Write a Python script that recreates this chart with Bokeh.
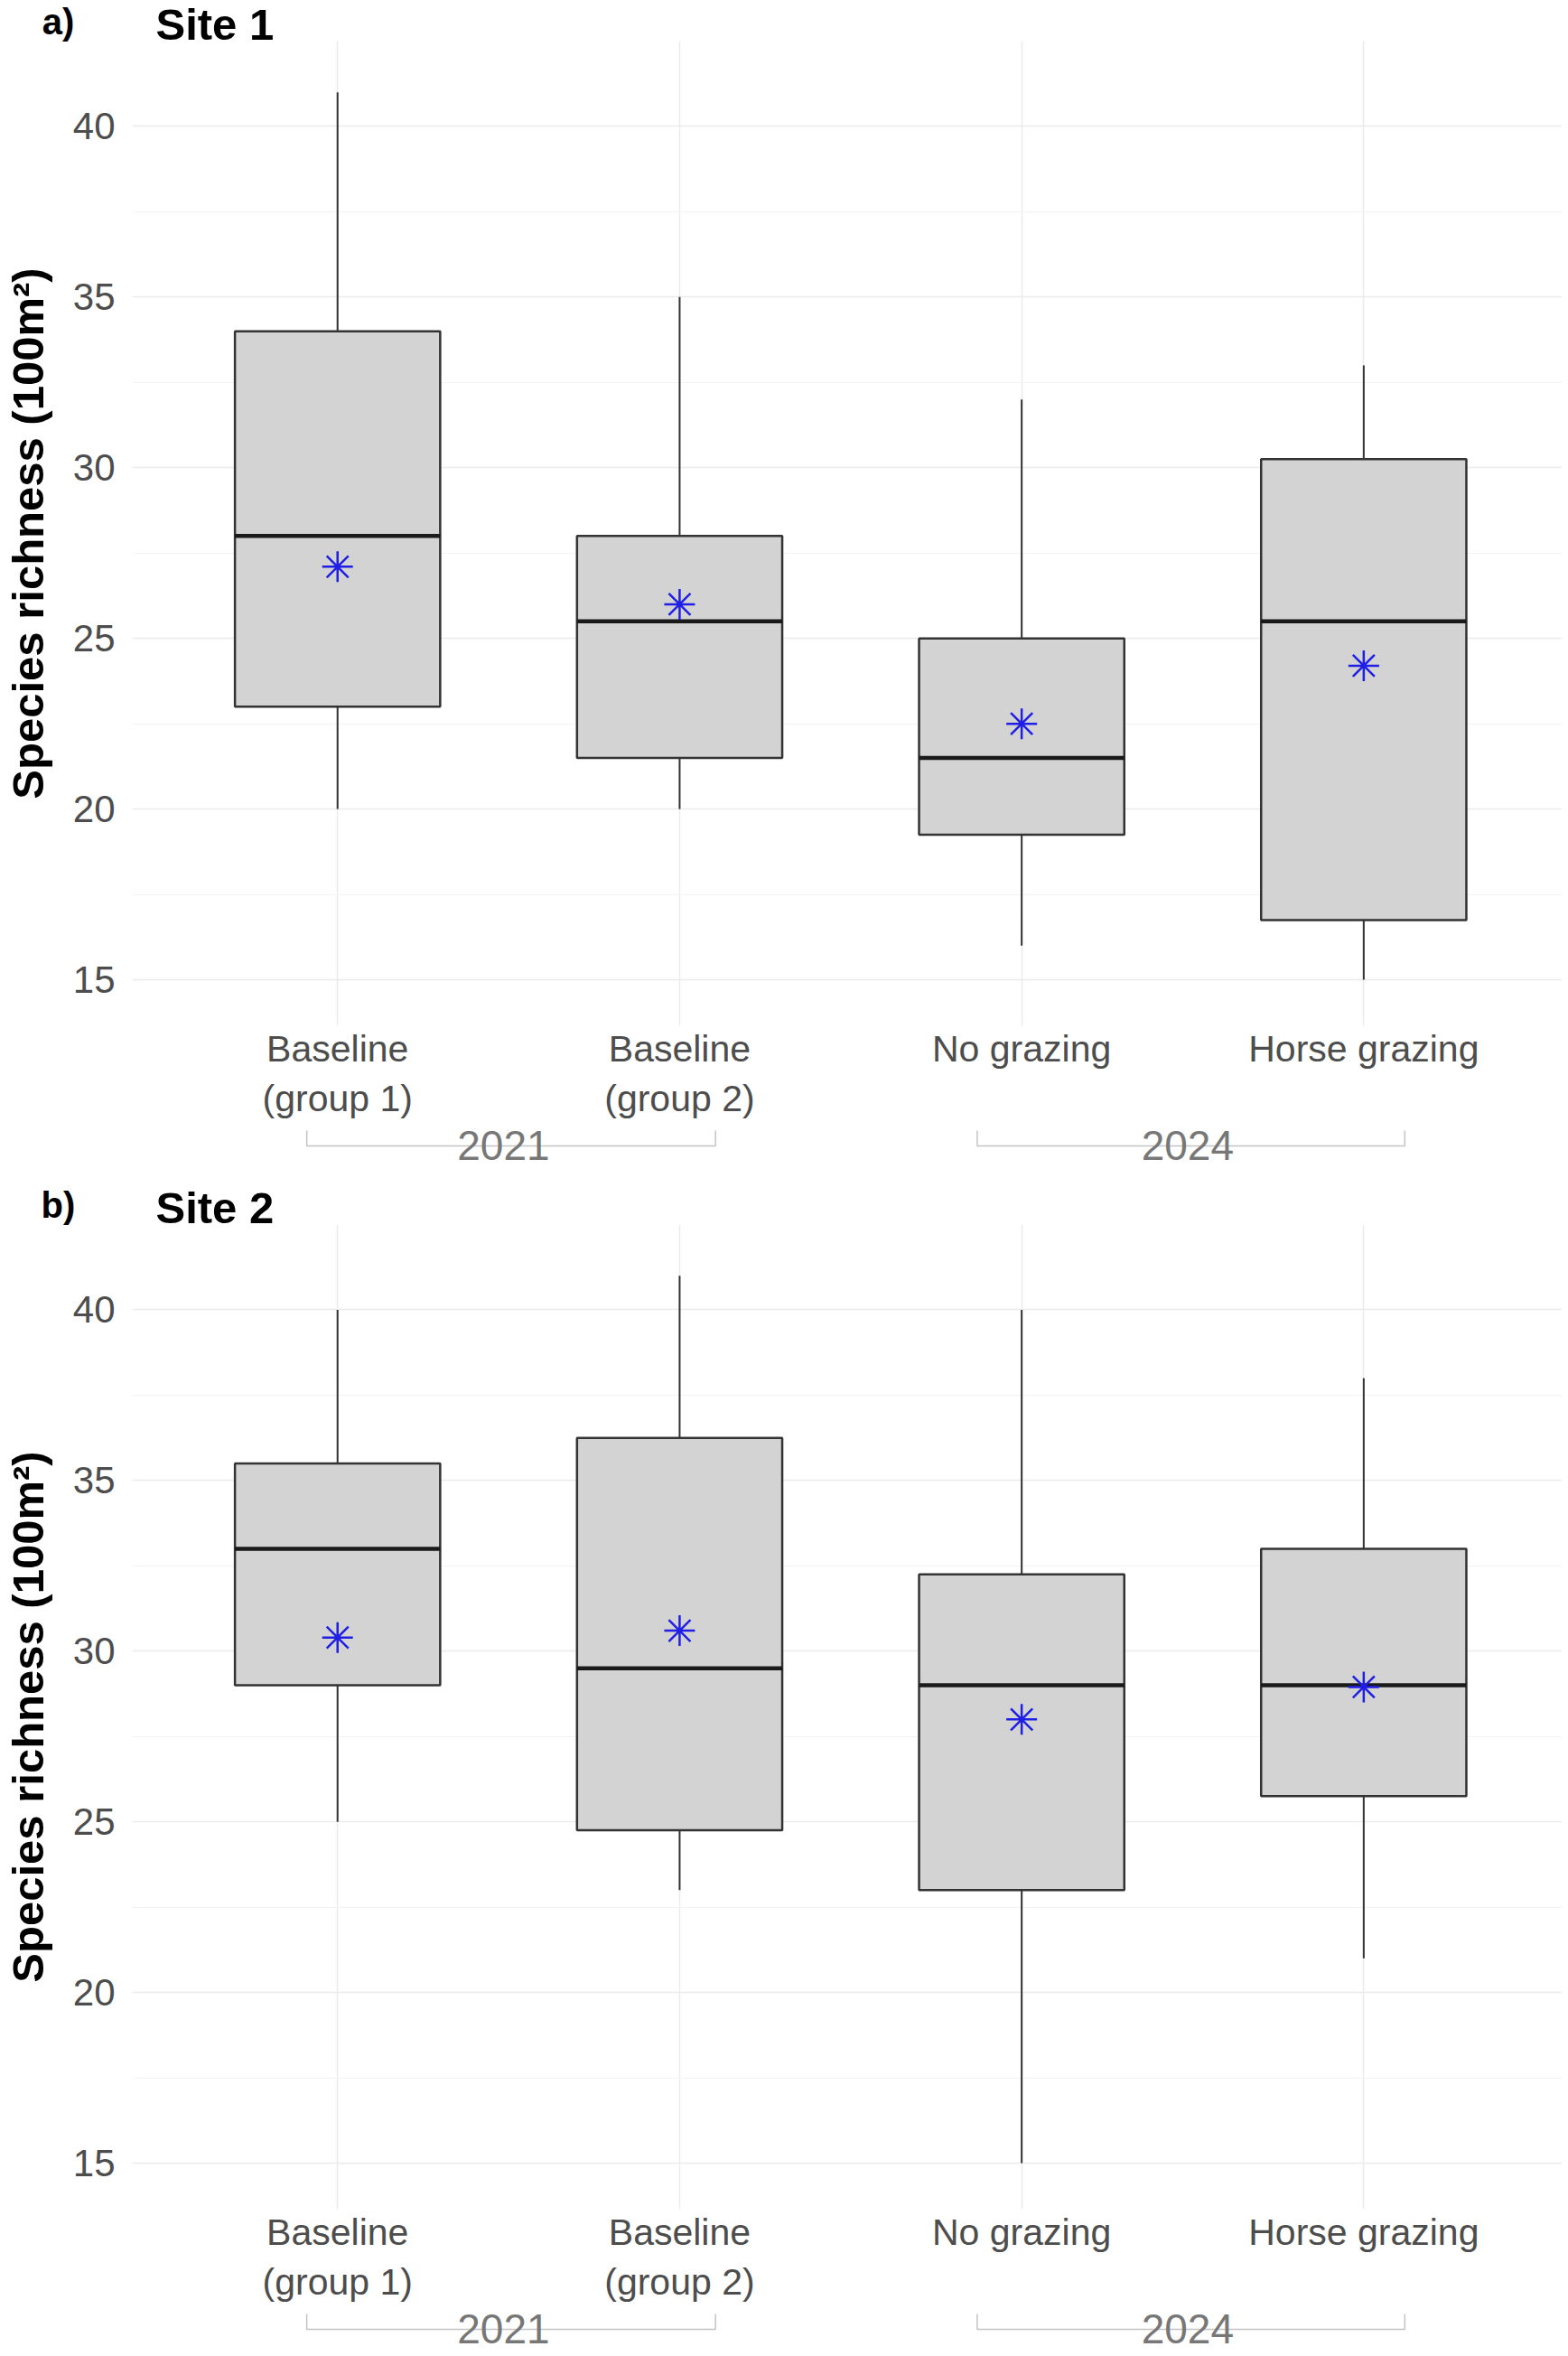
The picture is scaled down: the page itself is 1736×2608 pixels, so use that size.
import numpy as np
from bokeh.plotting import figure
from bokeh.layouts import column
from bokeh.models import ColumnDataSource, FixedTicker, SingleIntervalTicker, Range1d
from bokeh.core.properties import value
from bokeh.embed import file_html
from bokeh.resources import INLINE

# treatments (x categories) and survey year of each
treatments = ["Baseline\n(group 1)", "Baseline\n(group 2)", "No grazing", "Horse grazing"]
years = ["2021", "2021", "2024", "2024"]

# Site 1 - box stats
s1_low = [20, 20, 16, 15]
s1_q1 = [23, 21.5, 19.25, 16.75]
s1_med = [28, 25.5, 21.5, 25.5]
s1_q3 = [34, 28, 25, 30.25]
s1_high = [41, 35, 32, 33]
s1_mean = [27.1, 26.0, 22.5, 24.2]

# Site 2
s2_low = [25, 23, 15, 21]
s2_q1 = [29, 24.75, 23, 25.75]
s2_med = [33, 29.5, 29, 29]
s2_q3 = [35.5, 36.25, 32.25, 33]
s2_high = [40, 41, 40, 38]
s2_mean = [30.4, 30.6, 28.0, 28.95]

FONT = "Liberation Sans"
X0, X1 = 0.4, 4.58
Y0, Y1 = 13.65, 42.5
FW, FH = 1583, 1090
BOX_W = 0.6
# bracket ends (left pad, right pad) in category units
PAD = {"2021": (0.09, 0.105), "2024": (0.13, 0.12)}

px_x = FW / (X1 - X0)
px_y = FH / (Y1 - Y0)

def ybelow(px):
    return Y0 - px / px_y

def yabove(px):
    return Y1 + px / px_y

def xfrom_left(px):
    return X0 + px / px_x


def panel(tag, site, low, q1, med, q3, high, mean, top, bottom):
    x = np.arange(1, len(treatments) + 1)
    src = ColumnDataSource(dict(x=x, xl=x - BOX_W / 2, xr=x + BOX_W / 2,
                                low=low, q1=q1, med=med, q3=q3, high=high, mean=mean))
    p = figure(frame_width=FW, frame_height=FH, x_range=Range1d(X0, X1), y_range=Range1d(Y0, Y1),
               output_backend="svg", toolbar_location=None,
               min_border_left=137, min_border_right=0, min_border_top=top, min_border_bottom=bottom)
    p.outline_line_color = None

    # axes
    p.xaxis.ticker = FixedTicker(ticks=list(x))
    p.xaxis.major_label_overrides = {int(i): t for i, t in zip(x, treatments)}
    p.yaxis.ticker = SingleIntervalTicker(interval=5, num_minor_ticks=2)
    for ax in (p.xaxis, p.yaxis):
        ax.axis_line_color = None
        ax.major_tick_line_color = None
        ax.minor_tick_line_color = None
        ax.major_tick_out = 0
        ax.major_label_text_font = FONT
        ax.major_label_text_color = "#4d4d4d"
    p.xaxis.major_label_text_font_size = "41px"
    p.yaxis.major_label_text_font_size = "42px"
    p.xaxis.major_label_standoff = 2
    p.yaxis.major_label_standoff = 15
    p.yaxis.axis_label = "Species richness (100m\u00b2)"
    p.yaxis.axis_label_text_font = FONT
    p.yaxis.axis_label_text_font_style = "bold"
    p.yaxis.axis_label_text_font_size = "49px"
    p.yaxis.axis_label_text_color = "black"
    p.yaxis.axis_label_standoff = 20

    p.xgrid.grid_line_color = "#ebebeb"
    p.xgrid.grid_line_width = 1.5
    p.ygrid.grid_line_color = "#ebebeb"
    p.ygrid.grid_line_width = 1.5
    p.ygrid.minor_grid_line_color = "#f3f3f3"
    p.ygrid.minor_grid_line_width = 1.2

    # boxplots
    p.segment(x0="x", y0="q3", x1="x", y1="high", source=src, line_color="#333333", line_width=2)
    p.segment(x0="x", y0="q1", x1="x", y1="low", source=src, line_color="#333333", line_width=2)
    p.quad(left="xl", right="xr", bottom="q1", top="q3", source=src,
           fill_color="#d3d3d3", line_color="#333333", line_width=2.5)
    p.segment(x0="xl", y0="med", x1="xr", y1="med", source=src, line_color="#1a1a1a", line_width=4.5)
    p.scatter(x="x", y="mean", source=src, marker="asterisk", size=34,
              line_color="#1f1fe6", line_width=2.5)

    # year brackets under the axis
    groups = list(dict.fromkeys(years))
    xs, ys, cx = [], [], []
    for g in groups:
        idx = [i for i, yv in enumerate(years) if yv == g]
        a = x[idx[0]] - PAD[g][0]
        b = x[idx[-1]] + PAD[g][1]
        xs.append([a, a, b, b])
        ys.append([ybelow(116), ybelow(133), ybelow(133), ybelow(116)])
        cx.append(np.mean(x[idx]) - 0.015)
    p.multi_line(xs=xs, ys=ys, line_color="#c4c4c4", line_width=1.5, level="overlay")
    p.text(x=cx, y=[ybelow(132)] * len(cx), text=groups, level="overlay",
           text_align="center", text_baseline="alphabetic", text_font=value(FONT),
           text_font_size="46px", text_color="#777777")

    # panel tag and site title
    p.text(x=[xfrom_left(-82)], y=[yabove(22)], text=[tag], level="overlay",
           text_align="center", text_baseline="alphabetic", text_font=value(FONT),
           text_font_size="40px", text_font_style="bold", text_color="black")
    p.text(x=[xfrom_left(26)], y=[yabove(19)], text=[site], level="overlay",
           text_align="left", text_baseline="alphabetic", text_font=value(FONT),
           text_font_size="49px", text_font_style="bold", text_color="black")
    return p


pa = panel("a)", "Site 1", s1_low, s1_q1, s1_med, s1_q3, s1_high, s1_mean, 45, 165)
pb = panel("b)", "Site 2", s2_low, s2_q1, s2_med, s2_q3, s2_high, s2_mean, 55, 163)

layout = column(pa, pb, spacing=0)
open("out.html", "w").write(file_html(layout, INLINE))
